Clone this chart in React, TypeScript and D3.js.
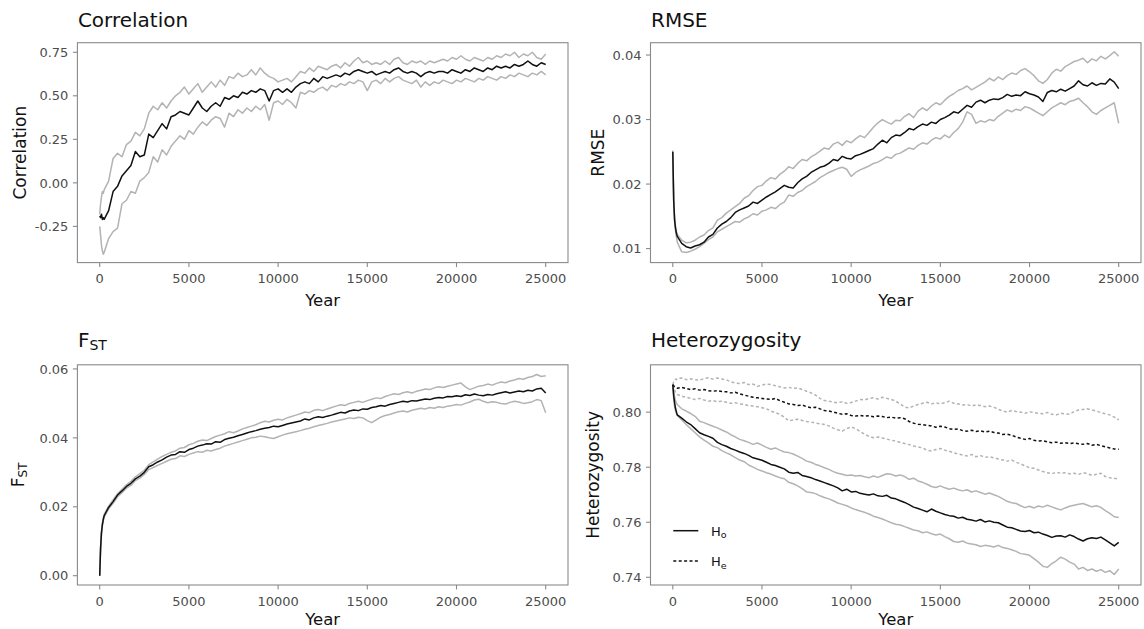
import React from "react";
import * as d3 from "d3";

// ---------- data ----------
const YEARS: number[] = [0, 50, 100, 150, 200, ...d3.range(250, 25001, 250)];
const X_TICKS = [0, 5000, 10000, 15000, 20000, 25000];

const COR_MEAN = [
  -0.19, -0.2, -0.18, -0.21, -0.2,
  -0.21, -0.16, -0.05, -0.02, 0.04, 0.07, 0.1, 0.18, 0.15, 0.16,
  0.28, 0.26, 0.3, 0.34, 0.31, 0.38, 0.39, 0.41, 0.4, 0.39,
  0.43, 0.47, 0.43, 0.41, 0.44, 0.46, 0.44, 0.49, 0.48, 0.5,
  0.49, 0.52, 0.51, 0.53, 0.52, 0.54, 0.53, 0.47, 0.53, 0.54,
  0.52, 0.54, 0.52, 0.55, 0.57, 0.58, 0.57, 0.6, 0.58, 0.61,
  0.6, 0.61, 0.62, 0.61, 0.63, 0.62, 0.64, 0.65, 0.64, 0.63,
  0.64, 0.62, 0.63, 0.64, 0.63, 0.65, 0.66, 0.64, 0.63, 0.64,
  0.63, 0.61, 0.63, 0.64, 0.63, 0.64, 0.64, 0.63, 0.65, 0.64,
  0.63, 0.65, 0.64, 0.66, 0.65, 0.64, 0.66, 0.65, 0.67, 0.66,
  0.67, 0.66, 0.68, 0.67, 0.68, 0.7, 0.68, 0.67, 0.69, 0.68,
];
const COR_UPPER = [
  -0.18, -0.12, -0.08, -0.05, -0.06,
  -0.04, 0.01, 0.14, 0.17, 0.15, 0.22, 0.24, 0.29, 0.27, 0.31,
  0.4, 0.44, 0.42, 0.46, 0.43, 0.47, 0.5, 0.52, 0.55, 0.51,
  0.54, 0.57, 0.52, 0.55, 0.58, 0.55, 0.59, 0.56, 0.61, 0.6,
  0.63, 0.61, 0.62, 0.65, 0.62, 0.66, 0.63, 0.61, 0.6, 0.58,
  0.59, 0.6, 0.58, 0.61, 0.64, 0.63, 0.66, 0.64, 0.67, 0.66,
  0.65, 0.67, 0.68, 0.66, 0.69, 0.67, 0.7, 0.72, 0.69, 0.7,
  0.68, 0.69, 0.68, 0.7, 0.68, 0.71, 0.72, 0.69, 0.68, 0.7,
  0.69, 0.7, 0.68, 0.7, 0.69, 0.7, 0.71, 0.7, 0.72, 0.71,
  0.73, 0.71, 0.7, 0.72, 0.71, 0.7, 0.72, 0.71, 0.73, 0.72,
  0.74, 0.73, 0.75, 0.72, 0.74, 0.73, 0.75, 0.72, 0.71, 0.74,
];
const COR_LOWER = [
  -0.25, -0.3, -0.36, -0.39, -0.41,
  -0.4, -0.32, -0.28, -0.26, -0.12, -0.1, -0.05, -0.06, 0.01, 0.03,
  0.06, 0.15, 0.12, 0.19, 0.16, 0.21, 0.24, 0.27, 0.25, 0.3,
  0.28, 0.32, 0.35, 0.33, 0.36, 0.38, 0.37, 0.32, 0.4, 0.38,
  0.42, 0.4, 0.43, 0.41, 0.44, 0.42, 0.45, 0.36, 0.46, 0.47,
  0.45, 0.48, 0.46, 0.43, 0.52, 0.51, 0.53, 0.52, 0.54, 0.55,
  0.53, 0.56, 0.55, 0.57, 0.56, 0.58, 0.57, 0.59, 0.58, 0.53,
  0.58, 0.59, 0.57, 0.6, 0.58, 0.6, 0.61, 0.59, 0.58, 0.57,
  0.59, 0.55, 0.58, 0.56, 0.58, 0.57, 0.59, 0.58, 0.57, 0.59,
  0.58, 0.6, 0.59, 0.58, 0.6, 0.59, 0.61, 0.6, 0.59, 0.61,
  0.6, 0.62, 0.61, 0.63, 0.62, 0.61, 0.63, 0.62, 0.64, 0.62,
];

const RMSE_MEAN = [
  0.025, 0.0175, 0.0145, 0.0132, 0.0124,
  0.0119, 0.0108, 0.0103, 0.0101, 0.0104, 0.0106, 0.011, 0.0118, 0.0122, 0.0132,
  0.0138, 0.0142, 0.0148, 0.0156, 0.016, 0.0163, 0.0166, 0.0172, 0.017, 0.0175,
  0.018, 0.0184, 0.0188, 0.0193, 0.0198, 0.0195, 0.0194, 0.0202, 0.0208, 0.0212,
  0.0218, 0.0222, 0.0226, 0.0228, 0.0232, 0.0238, 0.0236, 0.0243, 0.024, 0.0239,
  0.0244, 0.0246, 0.0249, 0.0252, 0.0255, 0.0262, 0.0268, 0.0264, 0.0272, 0.0276,
  0.0275, 0.028, 0.0286, 0.0284, 0.0289, 0.0293, 0.0291, 0.0296, 0.0294, 0.03,
  0.0303, 0.0307, 0.0312, 0.031, 0.0316, 0.0322, 0.0319, 0.0327, 0.033, 0.0326,
  0.033, 0.0332, 0.0331, 0.0334, 0.0339, 0.0336, 0.0338, 0.0337, 0.0343, 0.034,
  0.0338, 0.0335, 0.0328, 0.0342, 0.0345, 0.0343, 0.0347, 0.0344, 0.0348, 0.0352,
  0.036, 0.0354, 0.0352, 0.0357, 0.0353, 0.0356, 0.0355, 0.0363, 0.0358, 0.0348,
];
const RMSE_UPPER = [
  0.0252, 0.0178, 0.0148, 0.0135, 0.0127,
  0.0122, 0.0113, 0.0109, 0.011, 0.0113, 0.0118, 0.0121, 0.0128, 0.0132, 0.0144,
  0.0148, 0.0155, 0.016, 0.0165, 0.017, 0.0178, 0.0182, 0.019, 0.0196, 0.0198,
  0.0205, 0.021, 0.0208, 0.0215, 0.022, 0.0227, 0.0224, 0.0232, 0.0238, 0.0236,
  0.0242, 0.0246, 0.0251, 0.0256, 0.0254, 0.0262, 0.0265, 0.026, 0.0267, 0.0264,
  0.027, 0.0275, 0.0272, 0.028, 0.0288, 0.0295, 0.03, 0.0296, 0.0293, 0.0299,
  0.0298, 0.0305, 0.0309, 0.0303, 0.0313, 0.0318, 0.0314, 0.0321, 0.0326, 0.0323,
  0.033, 0.0336, 0.034, 0.0345, 0.0348, 0.0352, 0.0346, 0.035, 0.0354, 0.0358,
  0.0364, 0.036, 0.0366, 0.0362, 0.0368, 0.0372, 0.037, 0.0376, 0.0379, 0.0374,
  0.0368, 0.036, 0.0356, 0.0362, 0.0372, 0.0378, 0.0375, 0.0382, 0.0386, 0.039,
  0.0392, 0.0395, 0.0388, 0.0394, 0.0391, 0.0398, 0.0394, 0.0399, 0.0405, 0.0398,
];
const RMSE_LOWER = [
  0.0248, 0.0172, 0.0142, 0.0128, 0.0118,
  0.011, 0.0095, 0.0094, 0.0096, 0.0099, 0.0103, 0.0108, 0.0114, 0.0118, 0.0126,
  0.013, 0.0134, 0.0138, 0.0142, 0.0141, 0.0146, 0.0149, 0.0154, 0.0152, 0.0158,
  0.016, 0.0164, 0.0162, 0.0168, 0.0172, 0.0183, 0.0181, 0.0187, 0.019, 0.0196,
  0.02, 0.0204, 0.021, 0.0214, 0.0218, 0.0221, 0.0224, 0.0226, 0.0223, 0.0212,
  0.0218, 0.0222, 0.0225, 0.0228, 0.0232, 0.0234, 0.0238, 0.0242, 0.024, 0.0246,
  0.0248, 0.0252, 0.0256, 0.0254, 0.026, 0.0264, 0.0262, 0.0268, 0.0272, 0.027,
  0.0276, 0.0272, 0.028, 0.0286, 0.0296, 0.0312, 0.0308, 0.0294, 0.0298, 0.0296,
  0.03, 0.0298, 0.0305, 0.031, 0.0315, 0.0312, 0.0316, 0.0314, 0.032, 0.0318,
  0.0314, 0.031, 0.0306, 0.0312, 0.0318, 0.0322, 0.0326, 0.0323, 0.0328, 0.033,
  0.0333, 0.0326, 0.032, 0.0312, 0.0308, 0.0314, 0.0318, 0.0322, 0.0326, 0.0294,
];

const FST_MEAN = [
  0.0, 0.008, 0.0125, 0.0148, 0.0163,
  0.0174, 0.0198, 0.0215, 0.0234, 0.0246, 0.0259, 0.0268, 0.0281, 0.0289, 0.03,
  0.0316, 0.0322, 0.033, 0.0336, 0.0344, 0.035, 0.0352, 0.036, 0.0358, 0.0366,
  0.037, 0.0376, 0.0379, 0.0383, 0.0382, 0.0389, 0.0387, 0.0395, 0.0399, 0.0402,
  0.0406, 0.041, 0.0414, 0.0418, 0.0421, 0.0425, 0.0428, 0.043, 0.0434, 0.0432,
  0.0436, 0.044, 0.0443, 0.0446, 0.0449, 0.0455, 0.0452, 0.0458, 0.0461, 0.0459,
  0.0463, 0.0466, 0.047, 0.0474, 0.0472, 0.0478, 0.0481, 0.0479, 0.0484, 0.0483,
  0.0488, 0.049, 0.0494, 0.0492, 0.0497, 0.05, 0.0503, 0.0506, 0.0504, 0.0508,
  0.0507, 0.051, 0.0513, 0.0511, 0.0515, 0.0517, 0.0516, 0.052, 0.0519, 0.0522,
  0.052, 0.0525, 0.0523, 0.0527, 0.0524, 0.0522, 0.0526, 0.0524, 0.0528, 0.0531,
  0.0534, 0.053, 0.0533, 0.0536, 0.0534, 0.0538, 0.0536, 0.0542, 0.0544, 0.053,
];
const FST_UPPER = [
  0.0, 0.0082, 0.0128, 0.0151, 0.0167,
  0.0178, 0.0202, 0.022, 0.0238, 0.0251, 0.0264, 0.0274, 0.0287, 0.0296, 0.0306,
  0.0322, 0.033, 0.0338, 0.0346, 0.0352, 0.0358, 0.0362, 0.037, 0.0372, 0.038,
  0.0384, 0.039, 0.0394, 0.0392, 0.0398, 0.0404, 0.0408, 0.0412, 0.0418, 0.0415,
  0.042, 0.0426, 0.043, 0.0434, 0.0438, 0.0444, 0.0448, 0.0446, 0.0451, 0.0454,
  0.0452, 0.0458, 0.0462, 0.0466, 0.047, 0.0475, 0.0473, 0.048, 0.0482, 0.0479,
  0.0484, 0.0488, 0.0492, 0.0496, 0.0494, 0.05, 0.0503, 0.0506, 0.0503, 0.0508,
  0.0512, 0.0516, 0.0514, 0.052, 0.0524, 0.0528, 0.0526, 0.0531, 0.0534, 0.053,
  0.0535, 0.0538, 0.0542, 0.054, 0.0545, 0.0548, 0.0546, 0.055, 0.0553, 0.0556,
  0.0559, 0.0548, 0.054, 0.0545, 0.055, 0.0552, 0.0556, 0.0553, 0.0558, 0.0562,
  0.056, 0.0565, 0.0568, 0.0572, 0.057, 0.0575, 0.0578, 0.0584, 0.0578, 0.058,
];
const FST_LOWER = [
  0.0, 0.0078, 0.0122, 0.0145, 0.016,
  0.017, 0.0194, 0.021, 0.0229, 0.0241, 0.0254, 0.0262, 0.0276, 0.0283, 0.0294,
  0.0308, 0.0314, 0.032, 0.0326, 0.0332, 0.0338, 0.034, 0.0348, 0.0346, 0.0352,
  0.0356, 0.036, 0.0358, 0.0364, 0.0362, 0.0366, 0.037, 0.0376, 0.038, 0.0384,
  0.0388, 0.0392, 0.0396, 0.04, 0.0402, 0.0405, 0.0403, 0.04, 0.0398, 0.0403,
  0.0408, 0.0412, 0.0415, 0.0418, 0.0421, 0.0425, 0.0428, 0.0432, 0.0436, 0.0439,
  0.0442, 0.0446, 0.0449, 0.0452, 0.0455, 0.0458, 0.0456, 0.046, 0.0458, 0.045,
  0.0444, 0.0452, 0.046, 0.0465, 0.0468, 0.0472, 0.0476, 0.0478, 0.0475, 0.048,
  0.0483, 0.0486, 0.0484, 0.0488, 0.0486, 0.049, 0.0488, 0.0492, 0.0494, 0.0497,
  0.0495, 0.05, 0.0504, 0.051, 0.0512, 0.0506, 0.0502, 0.0505, 0.0503, 0.05,
  0.0498, 0.0503, 0.0506, 0.0504, 0.05, 0.0502, 0.0505, 0.0511, 0.0508, 0.0473,
];

const HO_MEAN = [
  0.81, 0.806, 0.8035, 0.8015, 0.8002,
  0.799, 0.7978, 0.7965, 0.7955, 0.794, 0.7925, 0.7918, 0.7912, 0.7905, 0.789,
  0.7882, 0.7876, 0.7868, 0.7862, 0.7855, 0.785, 0.7843, 0.7834, 0.783, 0.7825,
  0.7818, 0.781, 0.7806, 0.78, 0.7794, 0.7782, 0.7778, 0.7781, 0.777, 0.7766,
  0.7762, 0.7755, 0.775, 0.7744, 0.7738, 0.7732, 0.7725, 0.7714, 0.772, 0.771,
  0.7712, 0.7705, 0.7702, 0.7699, 0.7703, 0.7696, 0.7694, 0.7698, 0.7688, 0.7685,
  0.7678, 0.7672, 0.7664, 0.7655, 0.765, 0.7644, 0.7638, 0.7648, 0.764, 0.7634,
  0.7628, 0.7624, 0.7622, 0.7615, 0.7618, 0.7611, 0.7608, 0.7604, 0.761, 0.7601,
  0.7605, 0.76, 0.7598, 0.759, 0.7582, 0.758, 0.7574, 0.7568, 0.7566, 0.757,
  0.7562, 0.7564, 0.7557, 0.7552, 0.7545, 0.755, 0.7551, 0.7546, 0.7554, 0.7548,
  0.7539, 0.7532, 0.754, 0.7544, 0.7541, 0.7546, 0.7536, 0.7525, 0.7514, 0.7527,
];
const HO_UPPER = [
  0.81, 0.8075, 0.8055, 0.8042, 0.8034,
  0.8028, 0.8012, 0.8004, 0.7995, 0.7985, 0.7967, 0.7962, 0.7955, 0.7949, 0.7943,
  0.7935, 0.7928, 0.7918, 0.791, 0.7901, 0.7896, 0.789, 0.7883, 0.7888, 0.788,
  0.7872, 0.7865, 0.787, 0.7862, 0.7855, 0.7853, 0.7848, 0.784, 0.7832, 0.7822,
  0.7818, 0.781, 0.7805, 0.7798, 0.7792, 0.7784, 0.7778, 0.7774, 0.777, 0.7772,
  0.7768, 0.777, 0.7765, 0.7762, 0.7768, 0.7763, 0.777, 0.7776, 0.7774, 0.7768,
  0.7772, 0.7766, 0.7756, 0.776, 0.775, 0.7745, 0.7738, 0.773, 0.7726, 0.7732,
  0.7725, 0.772, 0.7724, 0.7718, 0.7714, 0.7718, 0.771, 0.7714, 0.7708, 0.7702,
  0.7706, 0.77, 0.7694, 0.7685, 0.7676, 0.7671, 0.7668, 0.766, 0.7653, 0.7658,
  0.7652, 0.7659, 0.7655, 0.7662, 0.7656, 0.765, 0.7645, 0.7652, 0.7658, 0.7662,
  0.7665, 0.7668, 0.7662, 0.7656, 0.766, 0.7654, 0.7642, 0.7632, 0.762, 0.7617,
];
const HO_LOWER = [
  0.81, 0.805, 0.802, 0.8005, 0.7995,
  0.7988, 0.7972, 0.7955, 0.794, 0.7925, 0.791, 0.7898, 0.7888, 0.7876, 0.7871,
  0.786, 0.7852, 0.7845, 0.7835, 0.7826, 0.782, 0.7808, 0.78, 0.7792, 0.7786,
  0.778, 0.7775, 0.7768, 0.7762, 0.7758, 0.7745, 0.774, 0.7732, 0.7722, 0.771,
  0.7708, 0.7704, 0.7696, 0.769, 0.7685, 0.7678, 0.767, 0.7665, 0.766, 0.7652,
  0.7646, 0.7641, 0.7636, 0.763, 0.7622, 0.7617, 0.7612, 0.7605, 0.7598, 0.7593,
  0.759, 0.7584, 0.7578, 0.7572, 0.7569, 0.7562, 0.7565, 0.7558, 0.7554, 0.7557,
  0.7548, 0.754, 0.753, 0.7527, 0.7532, 0.7524, 0.7521, 0.7518, 0.7512, 0.7516,
  0.7514, 0.751, 0.7516, 0.7508, 0.7505, 0.75, 0.7494, 0.7486, 0.7484, 0.748,
  0.7468, 0.7455, 0.744, 0.7436, 0.745, 0.746, 0.7473, 0.7466, 0.7455, 0.7448,
  0.743, 0.7436, 0.7425, 0.743, 0.7422, 0.7428, 0.7418, 0.7424, 0.741, 0.743,
];
const HE_MEAN = [
  0.81, 0.8096, 0.8092, 0.809, 0.8088,
  0.8087, 0.809, 0.8086, 0.8082, 0.8085, 0.808, 0.8082, 0.8078, 0.8076, 0.8078,
  0.8075, 0.8074, 0.807, 0.8072, 0.8066, 0.8062, 0.8058, 0.8054, 0.8052, 0.805,
  0.8048, 0.8046, 0.805, 0.8042, 0.8036, 0.803, 0.8028, 0.8024, 0.8026, 0.802,
  0.8016, 0.8018, 0.8012, 0.8006, 0.8004, 0.8, 0.7996, 0.7992, 0.7994, 0.7988,
  0.7986, 0.7988, 0.7985, 0.7987, 0.7983, 0.7986, 0.7984, 0.798, 0.7982, 0.7978,
  0.798, 0.7976, 0.7966, 0.796, 0.7956, 0.7955, 0.7952, 0.795, 0.7945, 0.7949,
  0.7946, 0.794, 0.7937, 0.7939, 0.7933, 0.7931, 0.7934, 0.793, 0.7932, 0.7928,
  0.7931, 0.7926, 0.7924, 0.7919, 0.792, 0.7916, 0.791, 0.7905, 0.7901, 0.7904,
  0.7898, 0.7895, 0.7896, 0.7892, 0.7889, 0.7891, 0.7887, 0.7889, 0.7886, 0.7888,
  0.7885, 0.7883, 0.7886, 0.788, 0.7883, 0.7878, 0.7874, 0.787, 0.7866, 0.7865,
];
const HE_UPPER = [
  0.81, 0.811, 0.8115, 0.812, 0.8118,
  0.8122, 0.8124, 0.8118, 0.8121, 0.8118, 0.8116, 0.8122, 0.8125, 0.812, 0.8124,
  0.812, 0.8118, 0.811, 0.8106, 0.8104, 0.8108, 0.81, 0.8102, 0.8094, 0.8098,
  0.8102, 0.81, 0.8096, 0.8092, 0.8088, 0.809, 0.8086, 0.8088, 0.8082, 0.8076,
  0.807, 0.8062, 0.805, 0.8042, 0.804, 0.8036, 0.8034, 0.8038, 0.8032, 0.8035,
  0.804, 0.8046, 0.8044, 0.805, 0.8052, 0.8048, 0.8054, 0.805, 0.8046, 0.804,
  0.803, 0.8018, 0.8016, 0.8022, 0.8028, 0.8032, 0.8036, 0.803, 0.8034, 0.803,
  0.8034, 0.804, 0.8032, 0.803, 0.8026, 0.8028, 0.8022, 0.8026, 0.8024, 0.802,
  0.8022, 0.8018, 0.801, 0.8004, 0.8, 0.8006, 0.8002, 0.8, 0.7996, 0.8002,
  0.7998, 0.7996, 0.7994, 0.7999, 0.7992, 0.799, 0.7996, 0.7994, 0.7992, 0.8002,
  0.8008, 0.801, 0.8012, 0.8008, 0.8004, 0.7998, 0.7994, 0.799, 0.7982, 0.7972,
];
const HE_LOWER = [
  0.81, 0.8088, 0.808, 0.8072, 0.8068,
  0.8064, 0.8058, 0.8054, 0.805, 0.8046, 0.805, 0.8044, 0.804, 0.8042, 0.8038,
  0.804, 0.8036, 0.8032, 0.8034, 0.803, 0.8028, 0.8024, 0.8022, 0.802, 0.8016,
  0.8012, 0.8004, 0.7998, 0.7992, 0.7982, 0.7968, 0.7972, 0.7974, 0.797, 0.7966,
  0.7964, 0.796, 0.7958, 0.7955, 0.795, 0.7942, 0.7936, 0.7931, 0.794, 0.7946,
  0.794, 0.793, 0.792, 0.7912, 0.7907, 0.791, 0.7906, 0.7902, 0.7898, 0.7895,
  0.789, 0.7886, 0.7882, 0.7877, 0.7874, 0.787, 0.7862, 0.7859, 0.7864, 0.7868,
  0.7862, 0.7858, 0.7852, 0.7848, 0.7844, 0.7841, 0.7846, 0.7838, 0.7842, 0.7836,
  0.7838, 0.7834, 0.783, 0.7826, 0.7822, 0.7826, 0.7818, 0.7812, 0.7805, 0.7798,
  0.7796, 0.779, 0.7784, 0.778, 0.7776, 0.7782, 0.7778, 0.778, 0.7776, 0.7778,
  0.7774, 0.778, 0.7776, 0.777, 0.7774, 0.7778, 0.7766, 0.7762, 0.776, 0.7756,
];

const COR_TICKS = [-0.25, 0, 0.25, 0.5, 0.75];
const RMSE_TICKS = [0.01, 0.02, 0.03, 0.04];
const FST_TICKS = [0, 0.02, 0.04, 0.06];
const HET_TICKS = [0.74, 0.76, 0.78, 0.8];

// ---------- styling ----------
const FONT = "'DejaVu Sans', 'Liberation Sans', sans-serif";
const BLACK = "#111111";
const GREY = "#b3b3b3";
const FRAME = "#8a8a8a";
const TICK_TXT = "#4d4d4d";

type Series = { values: number[]; color: string; dash?: string; width?: number };

type PanelProps = {
  x0: number; x1: number; y0: number; y1: number;
  yDomain: [number, number];
  yTicks: number[];
  series: Series[];
  title: React.ReactNode;
  yTitle: React.ReactNode;
  yTitleX: number;
  titleBaseline: number;
  xLabelBaseline: number;
  yearBaseline: number;
  children?: React.ReactNode;
};

function Panel(p: PanelProps) {
  const xs = d3.scaleLinear().domain([-1250, 26250]).range([p.x0, p.x1]);
  const ys = d3.scaleLinear().domain(p.yDomain).range([p.y1, p.y0]);
  const line = d3
    .line<number>()
    .x((_, i) => xs(YEARS[i]))
    .y((v) => ys(v));
  const cx = (p.x0 + p.x1) / 2;
  const cy = (p.y0 + p.y1) / 2;
  return (
    <g fontFamily={FONT}>
      {p.series.map((s, i) => (
        <path
          key={i}
          d={line(s.values) || ""}
          fill="none"
          stroke={s.color}
          strokeWidth={s.width ?? 1.5}
          strokeDasharray={s.dash}
          strokeLinejoin="round"
        />
      ))}
      <rect
        x={p.x0}
        y={p.y0}
        width={p.x1 - p.x0}
        height={p.y1 - p.y0}
        fill="none"
        stroke={FRAME}
        strokeWidth={1.1}
      />
      {X_TICKS.map((t) => (
        <g key={t}>
          <line x1={xs(t)} x2={xs(t)} y1={p.y1} y2={p.y1 + 4.5} stroke={FRAME} strokeWidth={1.1} />
          <text x={xs(t)} y={p.xLabelBaseline} textAnchor="middle" fontSize={13} fill={TICK_TXT}>
            {String(t)}
          </text>
        </g>
      ))}
      {p.yTicks.map((t) => (
        <g key={t}>
          <line x1={p.x0 - 4.5} x2={p.x0} y1={ys(t)} y2={ys(t)} stroke={FRAME} strokeWidth={1.1} />
          <text x={p.x0 - 9} y={ys(t)} dy="0.36em" textAnchor="end" fontSize={13} fill={TICK_TXT}>
            {t.toFixed(2)}
          </text>
        </g>
      ))}
      <text x={p.x0 + 0.5} y={p.titleBaseline} fontSize={20} fill={BLACK}>
        {p.title}
      </text>
      <text x={cx} y={p.yearBaseline} textAnchor="middle" fontSize={16.5} fill={BLACK}>
        Year
      </text>
      <text
        transform={`translate(${p.yTitleX},${cy}) rotate(-90)`}
        textAnchor="middle"
        fontSize={17}
        fill={BLACK}
      >
        {p.yTitle}
      </text>
      {p.children}
    </g>
  );
}

export default function App() {
  const LX = [77.4, 568];
  const RX = [650.5, 1141];
  const TOP = [42.7, 262.6];
  const BOT = [364.8, 585];
  const DASH = "3,2.4";
  return (
    <svg
      width={1144}
      height={629}
      style={{ position: "absolute", left: 0, top: 0, background: "#fff" }}
    >
      <rect x={0} y={0} width={1144} height={629} fill="#fff" />
      <Panel
        x0={LX[0]} x1={LX[1]} y0={TOP[0]} y1={TOP[1]}
        yDomain={[-0.458, 0.805]}
        yTicks={COR_TICKS}
        series={[
          { values: COR_UPPER, color: GREY },
          { values: COR_LOWER, color: GREY },
          { values: COR_MEAN, color: BLACK },
        ]}
        title="Correlation"
        yTitle="Correlation"
        yTitleX={25.5}
        titleBaseline={27.3}
        xLabelBaseline={283}
        yearBaseline={305.5}
      />
      <Panel
        x0={RX[0]} x1={RX[1]} y0={TOP[0]} y1={TOP[1]}
        yDomain={[0.00783, 0.04191]}
        yTicks={RMSE_TICKS}
        series={[
          { values: RMSE_UPPER, color: GREY },
          { values: RMSE_LOWER, color: GREY },
          { values: RMSE_MEAN, color: BLACK },
        ]}
        title="RMSE"
        yTitle="RMSE"
        yTitleX={604}
        titleBaseline={27.3}
        xLabelBaseline={283}
        yearBaseline={305.5}
      />
      <Panel
        x0={LX[0]} x1={LX[1]} y0={BOT[0]} y1={BOT[1]}
        yDomain={[-0.0027, 0.0612]}
        yTicks={FST_TICKS}
        series={[
          { values: FST_UPPER, color: GREY },
          { values: FST_LOWER, color: GREY },
          { values: FST_MEAN, color: BLACK },
        ]}
        title={
          <>
            <tspan>F</tspan>
            <tspan fontSize={14} dy={3.5}>ST</tspan>
          </>
        }
        yTitle={
          <>
            <tspan>F</tspan>
            <tspan fontSize={12} dy={3}>ST</tspan>
          </>
        }
        yTitleX={23.5}
        titleBaseline={346.5}
        xLabelBaseline={606}
        yearBaseline={624.5}
      />
      <Panel
        x0={RX[0]} x1={RX[1]} y0={BOT[0]} y1={BOT[1]}
        yDomain={[0.7372, 0.8172]}
        yTicks={HET_TICKS}
        series={[
          { values: HE_UPPER, color: GREY, dash: DASH },
          { values: HE_LOWER, color: GREY, dash: DASH },
          { values: HO_UPPER, color: GREY },
          { values: HO_LOWER, color: GREY },
          { values: HE_MEAN, color: BLACK, dash: DASH },
          { values: HO_MEAN, color: BLACK },
        ]}
        title="Heterozygosity"
        yTitle="Heterozygosity"
        yTitleX={598.5}
        titleBaseline={347}
        xLabelBaseline={606}
        yearBaseline={624.5}
      >
        <g fontFamily={FONT}>
          <line x1={673.3} x2={698.3} y1={530.7} y2={530.7} stroke={BLACK} strokeWidth={1.5} />
          <text x={711} y={535.5} fontSize={13} fill={BLACK}>
            <tspan>H</tspan>
            <tspan fontSize={9.5} dy={2.5}>o</tspan>
          </text>
          <line x1={673.3} x2={698.3} y1={561} y2={561} stroke={BLACK} strokeWidth={1.5} strokeDasharray={DASH} />
          <text x={711} y={566} fontSize={13} fill={BLACK}>
            <tspan>H</tspan>
            <tspan fontSize={9.5} dy={2.5}>e</tspan>
          </text>
        </g>
      </Panel>
    </svg>
  );
}
